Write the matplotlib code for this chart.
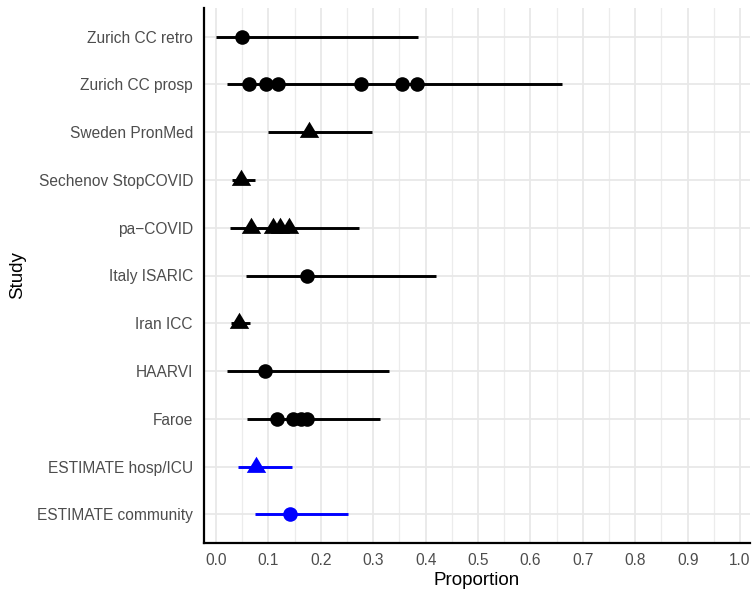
import matplotlib
matplotlib.use("Agg")
import matplotlib.pyplot as plt
from matplotlib.ticker import MultipleLocator

plt.rcParams['font.family'] = ['Liberation Sans', 'DejaVu Sans']

# rows, top to bottom
studies = ["Zurich CC retro", "Zurich CC prosp", "Sweden PronMed", "Sechenov StopCOVID",
           "pa\u2212COVID", "Italy ISARIC", "Iran ICC", "HAARVI", "Faroe",
           "ESTIMATE hosp/ICU", "ESTIMATE community"]
lower = [0.0, 0.020, 0.100, 0.031, 0.027, 0.057, 0.028, 0.020, 0.060, 0.041, 0.074]
upper = [0.385, 0.660, 0.297, 0.074, 0.272, 0.420, 0.064, 0.331, 0.313, 0.145, 0.251]
points = [[0.050],
          [0.063, 0.095, 0.118, 0.276, 0.354, 0.383],
          [0.178],
          [0.048],
          [0.067, 0.108, 0.122, 0.140],
          [0.174],
          [0.044],
          [0.093],
          [0.117, 0.146, 0.163, 0.173],
          [0.077],
          [0.141]]
setting = ["community", "community", "hosp", "hosp", "hosp", "community",
           "hosp", "community", "community", "hosp", "community"]
colours = ["black"] * 9 + ["blue", "blue"]

# triangle centred on its centroid, like ggplot shape 17
tri = [(-1, -0.555), (1, -0.555), (0, 1.11), (-1, -0.555)]
marker_for = {"community": ("o", 10.5), "hosp": (tri, 15.5)}

fig = plt.figure(figsize=(7.52, 5.94), dpi=100)
ax = fig.add_axes([204 / 752, 51 / 594, 546 / 752, 535 / 594])

n = len(studies)
for i, name in enumerate(studies):
    y = n - i
    ax.hlines(y, lower[i], upper[i], color=colours[i], lw=2.1, zorder=3)
    m, ms = marker_for[setting[i]]
    ax.plot(points[i], [y] * len(points[i]), linestyle="none", marker=m,
            markersize=ms, color=colours[i], markeredgewidth=0, zorder=4)

ax.set_ylim(0.4, n + 0.6)
ax.set_yticks(range(n, 0, -1))
ax.set_yticklabels(studies)
ax.xaxis.set_major_locator(MultipleLocator(0.1))
ax.xaxis.set_minor_locator(MultipleLocator(0.05))
ax.set_xlim(-0.023, 1.019)
ax.set_xticks([i / 10 for i in range(11)])
ax.set_xticklabels([f"{i / 10:.1f}" for i in range(11)])

ax.grid(True, which="major", color="#E8E8E8", lw=1.3, zorder=0)
ax.grid(True, which="minor", axis="x", color="#ECECEC", lw=0.9, zorder=0)
ax.set_axisbelow(True)

for s in ["top", "right"]:
    ax.spines[s].set_visible(False)
for s in ["left", "bottom"]:
    ax.spines[s].set_linewidth(1.6)
    ax.spines[s].set_color("black")

ax.tick_params(axis="both", which="both", length=0, labelsize=11.2, labelcolor="#4D4D4D")
ax.tick_params(axis="y", pad=8)
ax.tick_params(axis="x", pad=7)

ax.set_xlabel("Proportion", fontsize=13.5, labelpad=3)
ax.set_ylabel("Study", fontsize=13.5, labelpad=8)

fig.savefig("out.png", dpi=100)
